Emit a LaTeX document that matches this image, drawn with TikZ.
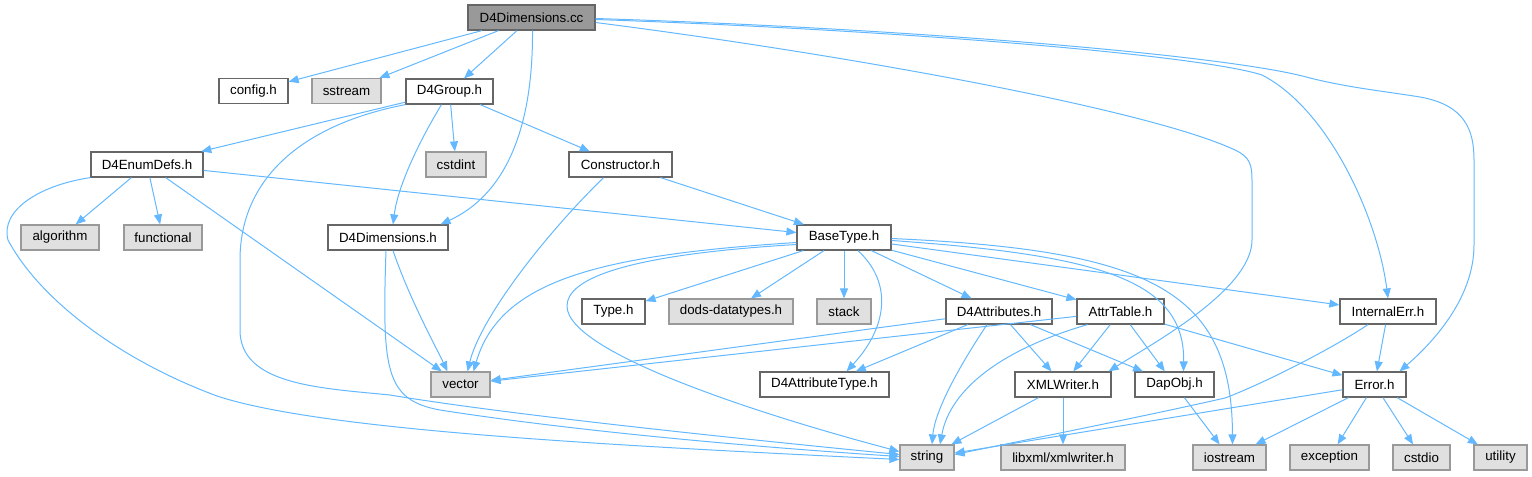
\documentclass[tikz,border=0pt]{standalone}
\usepackage{fontspec}
\setmainfont{Liberation Sans}
\usetikzlibrary{arrows.meta}
\definecolor{edgec}{HTML}{63B8FF}
\definecolor{bordw}{HTML}{666666}
\definecolor{bordg}{HTML}{999999}
\definecolor{fillg}{HTML}{E0E0E0}
\definecolor{fillr}{HTML}{999999}
\begin{document}
\begin{tikzpicture}[x=0.75pt,y=-0.75pt,
  every node/.style={font=\fontsize{10}{12}\selectfont},
  nb/.style={draw=bordw,fill=white,line width=0.9pt,minimum height=25*0.75pt,inner sep=0pt,minimum width=#1*0.75pt},
  xb/.style={draw=bordg,fill=fillg,line width=0.9pt,minimum height=25*0.75pt,inner sep=0pt,minimum width=#1*0.75pt},
  rb/.style={draw=bordw,fill=fillr,line width=0.9pt,minimum height=25*0.75pt,inner sep=0pt,minimum width=#1*0.75pt},
  lnk/.style={draw=edgec,line width=0.75pt,-{Triangle[length=7.5pt,width=6pt]}}]
\useasboundingbox (0,0) rectangle (1532,476);

% nodes
\node[rb=127] (cc) at (531.5,17.5) {D4Dimensions.cc};
\node[nb=69] (config) at (253.5,91) {config.h};
\node[xb=69] (sstream) at (346.5,91) {sstream};
\node[nb=87] (d4group) at (449.5,91.5) {D4Group.h};
\node[nb=112] (enumdefs) at (147,164.5) {D4EnumDefs.h};
\node[xb=60] (cstdint) at (456,164.5) {cstdint};
\node[nb=103] (constructor) at (620.5,164.5) {Constructor.h};
\node[xb=78] (algorithm) at (60,237.5) {algorithm};
\node[xb=78] (functional) at (163,237.5) {functional};
\node[nb=120] (d4dimh) at (388,237.5) {D4Dimensions.h};
\node[nb=94] (basetype) at (844,237.5) {BaseType.h};
\node[nb=63] (typeh) at (613.5,311.5) {Type.h};
\node[xb=124] (dods) at (731,311.5) {dods-datatypes.h};
\node[xb=54] (stack) at (844,311.5) {stack};
\node[nb=106] (d4attr) at (999,311.5) {D4Attributes.h};
\node[nb=87] (attrtable) at (1120.5,311.5) {AttrTable.h};
\node[nb=96] (internalerr) at (1388,311.5) {InternalErr.h};
\node[xb=59] (vector) at (460.5,384.5) {vector};
\node[nb=129] (d4attrtype) at (824.5,384.5) {D4AttributeType.h};
\node[nb=96] (xmlwriter) at (1063,384.5) {XMLWriter.h};
\node[nb=79] (dapobj) at (1174.5,384.5) {DapObj.h};
\node[nb=63] (errorh) at (1374.5,384.5) {Error.h};
\node[xb=54] (string) at (927,457.5) {string};
\node[xb=124] (libxml) at (1063,457.5) {libxml/xmlwriter.h};
\node[xb=73] (iostream) at (1229.5,457.5) {iostream};
\node[xb=79] (exception) at (1329.5,457.5) {exception};
\node[xb=57] (cstdio) at (1421.5,457.5) {cstdio};
\node[xb=53] (utility) at (1500.5,457.5) {utility};

% edges from D4Dimensions.cc
\draw[lnk] (cc) -- (config);
\draw[lnk] (cc) -- (sstream);
\draw[lnk] (cc) -- (d4group);
\draw[lnk] ([shift={(1,0)}]cc.south) .. controls (533,110) and (515,190) .. ([shift={(-8,0)}]d4dimh.north east);
\draw[lnk] ([shift={(0,5)}]cc.east) .. controls (850,55) and (1150,110) .. (1235,150) .. controls (1250,157) and (1252,165) .. (1252,180) -- (1252,240) .. controls (1252,290) and (1150,345) .. ([shift={(-3,0)}]xmlwriter.north east);
\draw[lnk] ([shift={(0,2)}]cc.east) .. controls (900,30) and (1200,55) .. (1262,75) .. controls (1330,110) and (1378,220) .. (internalerr.north);
\draw[lnk] ([shift={(0,1)}]cc.east) .. controls (900,28) and (1230,55) .. (1310,78) .. controls (1350,88) and (1390,92) .. (1420,97) .. controls (1465,105) and (1474,130) .. (1474,160) -- (1474,245) .. controls (1474,300) and (1430,345) .. ([shift={(25,0)}]errorh.north);

% D4Group.h
\draw[lnk] (d4group) -- (enumdefs);
\draw[lnk] (d4group.south west) .. controls (300,125) and (240,180) .. (240,260) -- (240,330) .. controls (240,385) and (320,388) .. (390,395) .. controls (480,410) and (650,430) .. ([shift={(0,-3)}]string.west);
\draw[lnk] ([shift={(-8,0)}]d4group.south) .. controls (420,140) and (398,185) .. ([shift={(5,0)}]d4dimh.north);
\draw[lnk] (d4group) -- (cstdint);
\draw[lnk] (d4group) -- (constructor);

% D4EnumDefs.h
\draw[lnk] (enumdefs.south west) .. controls (40,185) and (0,210) .. (8,240) .. controls (40,300) and (120,360) .. (217,396) .. controls (320,430) and (600,445) .. ([shift={(0,2)}]string.west);
\draw[lnk] (enumdefs) -- (algorithm);
\draw[lnk] (enumdefs) -- (functional);
\draw[lnk] (enumdefs) -- (vector);
\draw[lnk] (enumdefs) -- (basetype);

% Constructor.h
\draw[lnk] ([shift={(-17,0)}]constructor.south) .. controls (540,240) and (480,320) .. ([shift={(7,0)}]vector.north);
\draw[lnk] (constructor) -- (basetype);

% D4Dimensions.h
\draw[lnk] ([shift={(5,0)}]d4dimh.south) .. controls (410,300) and (435,345) .. ([shift={(-13,0)}]vector.north);
\draw[lnk] ([shift={(-2,0)}]d4dimh.south) .. controls (382,370) and (385,400) .. (440,410) .. controls (600,435) and (800,450) .. ([shift={(0,-1)}]string.west);

% BaseType.h
\draw[lnk] ([shift={(0,5)}]basetype.west) .. controls (600,255) and (500,280) .. ([shift={(13,0)}]vector.north);
\draw[lnk] ([shift={(0,7)}]basetype.west) .. controls (620,255) and (567,280) .. (567,306) .. controls (567,355) and (780,420) .. ([shift={(0,-6)}]string.west);
\draw[lnk] (basetype) -- (typeh);
\draw[lnk] (basetype) -- (dods);
\draw[lnk] (basetype) -- (stack);
\draw[lnk] ([shift={(14,0)}]basetype.south) .. controls (895,285) and (885,330) .. ([shift={(22,0)}]d4attrtype.north);
\draw[lnk] (basetype) -- (d4attr);
\draw[lnk] (basetype) -- (attrtable);
\draw[lnk] ([shift={(0,3)}]basetype.east) .. controls (1100,255) and (1185,280) .. ([shift={(9,0)}]dapobj.north);
\draw[lnk] ([shift={(0,1)}]basetype.east) .. controls (1150,250) and (1232,290) .. ([shift={(3,0)}]iostream.north);
\draw[lnk] (basetype) -- (internalerr);

% D4Attributes.h
\draw[lnk] (d4attr) -- (vector);
\draw[lnk] (d4attr) -- (d4attrtype);
\draw[lnk] ([shift={(-12,0)}]d4attr.south) .. controls (960,365) and (935,410) .. ([shift={(5,0)}]string.north);
\draw[lnk] (d4attr) -- (xmlwriter);
\draw[lnk] (d4attr) -- (dapobj);

% AttrTable.h
\draw[lnk] (attrtable) -- (vector);
\draw[lnk] ([shift={(-33,0)}]attrtable.south) .. controls (1000,350) and (950,390) .. ([shift={(13,0)}]string.north);
\draw[lnk] (attrtable) -- (xmlwriter);
\draw[lnk] (attrtable) -- (dapobj);
\draw[lnk] (attrtable) -- (errorh);

% InternalErr.h
\draw[lnk] ([shift={(-20,0)}]internalerr.south) .. controls (1330,350) and (1260,385) .. (1225,398) .. controls (1150,415) and (1050,435) .. ([shift={(0,-3)}]string.east);
\draw[lnk] (internalerr) -- (errorh);

% XMLWriter.h
\draw[lnk] (xmlwriter) -- (string);
\draw[lnk] (xmlwriter) -- (libxml);

% DapObj.h
\draw[lnk] (dapobj) -- (iostream);

% Error.h
\draw[lnk] (errorh) -- (string);
\draw[lnk] (errorh) -- (iostream);
\draw[lnk] (errorh) -- (exception);
\draw[lnk] (errorh) -- (cstdio);
\draw[lnk] (errorh) -- (utility);
\end{tikzpicture}
\end{document}
